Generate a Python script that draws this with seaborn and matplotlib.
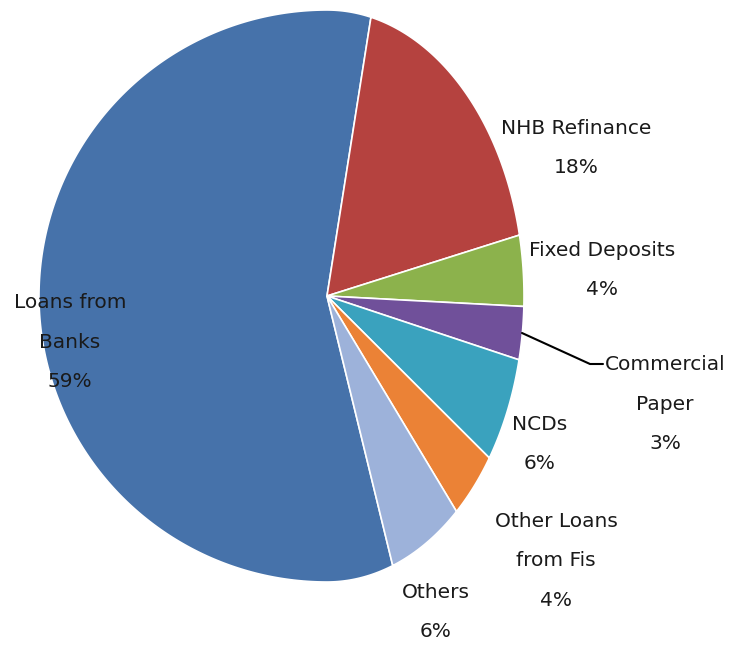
import numpy as np
import matplotlib.pyplot as plt
import seaborn as sns
from matplotlib.patches import Polygon

# sources of funds (share in %)
labels = ['Loans from\nBanks\n59%', 'NHB Refinance\n18%', 'Fixed Deposits\n4%',
          'Commercial\nPaper\n3%', 'NCDs\n6%', 'Other Loans\nfrom Fis\n4%', 'Others\n6%']
shares = [59, 18, 4, 3, 6, 4, 6]
colors = ['#4672AA', '#B5423F', '#8CB24C', '#70509A', '#3AA2BE', '#EB8236', '#9DB2DA']

# label positions (pixels)
label_x = [70, 576, 602, 665, 540, 556, 436]
label_y = [342, 148, 270, 404, 444, 561, 612]

sns.set_theme(style='white')
plt.rcParams['font.family'] = ['DejaVu Sans']

fig = plt.figure(figsize=(7.39, 6.45), dpi=100)
ax = fig.add_axes([0, 0, 1, 1])
wedges, _ = ax.pie(shares, colors=colors, startangle=289.5, counterclock=False)

# the pie in the picture is squeezed on the right side: redraw each wedge
# with a different horizontal radius left / right of the centre
cx, cy = 327, 296
kl, kr, ky = 288, 197, 286
for w in wedges:
    t = np.radians(np.linspace(w.theta1, w.theta2, 300))
    x = np.concatenate([[0], np.cos(t), [0]])
    y = np.concatenate([[0], np.sin(t), [0]])
    px = cx + np.where(x < 0, x * kl, x * kr)
    py = cy - y * ky
    ax.add_patch(Polygon(np.column_stack([px, py]), closed=True,
                         facecolor=w.get_facecolor(), edgecolor='white', lw=1.2))
    w.remove()

ax.set_aspect('auto')
ax.set_xlim(0, 739)
ax.set_ylim(645, 0)
ax.axis('off')

for lab, x, y in zip(labels, label_x, label_y):
    ax.text(x, y, lab, ha='center', va='center', fontsize=14.5,
            linespacing=2.35, color='#1a1a1a')

# leader line for Commercial Paper
ax.plot([522, 590, 603], [333, 364, 364], color='black', lw=1.5)

fig.savefig('out.png', dpi=100)
